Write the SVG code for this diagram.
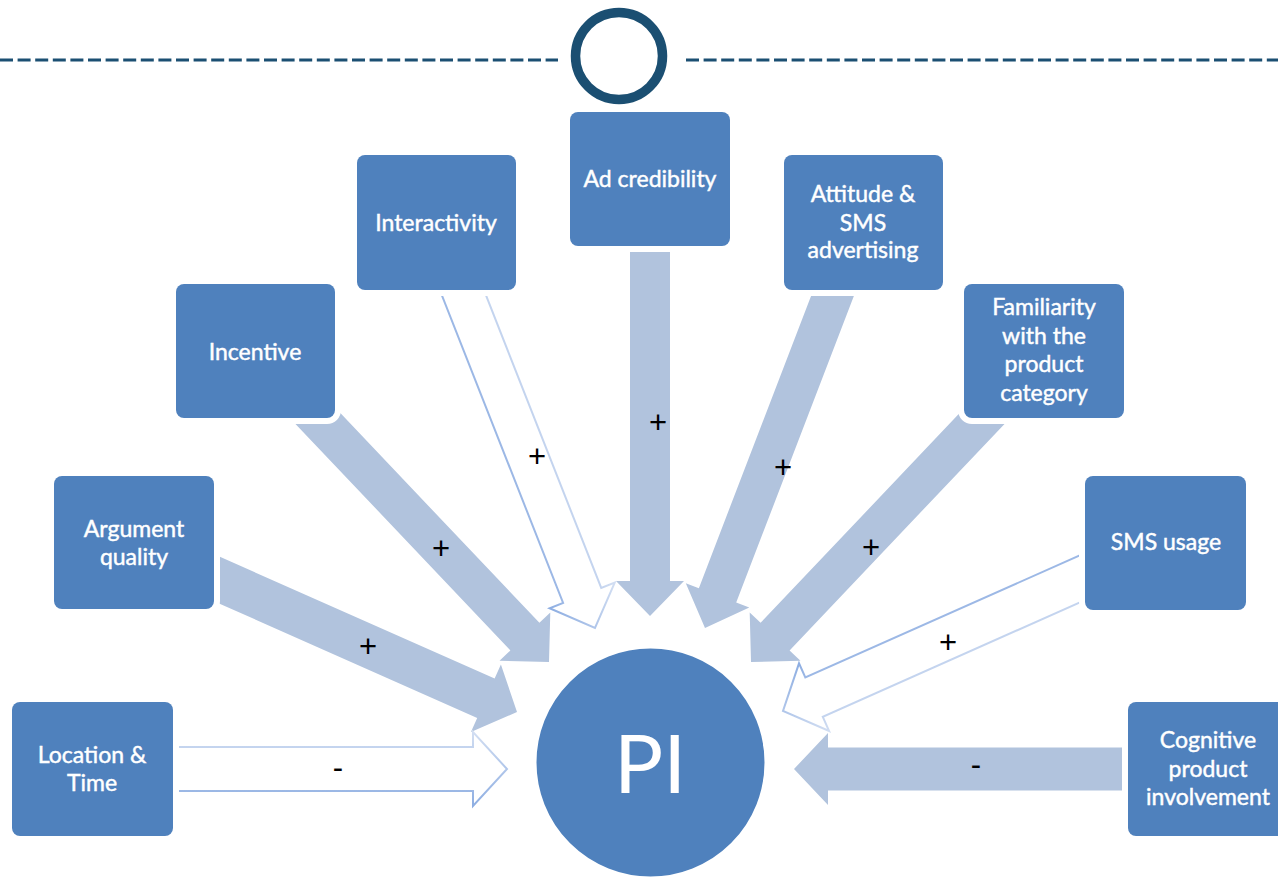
<svg xmlns="http://www.w3.org/2000/svg" width="1278" height="891" viewBox="0 0 1278 891">
<defs>
<linearGradient id="og" x1="0" y1="0" x2="0" y2="1">
<stop offset="0" stop-color="#D2DEF2"/>
<stop offset="1" stop-color="#8EAEE2"/>
</linearGradient>
</defs>
<style>
.box{fill:#4F81BD;stroke:#fff;stroke-width:12;paint-order:stroke}
.t{font-family:Lato,"Open Sans",sans-serif;font-size:23px;fill:#fff;stroke:#fff;stroke-width:0.45;text-anchor:middle}
.af{fill:#B1C3DD}
.ao{fill:#fff;stroke:url(#og);stroke-width:2;stroke-linejoin:miter}
.s{font-family:"Liberation Sans",Arial,sans-serif;font-size:31px;fill:#000;text-anchor:middle}
.hd{fill:none;stroke:#1B4F72;stroke-width:3;stroke-dasharray:13 4.6}
</style>
<rect width="1278" height="891" fill="#fff"/>
<g id="header">
<line class="hd" x1="0" y1="60" x2="558" y2="60"/>
<line class="hd" x1="686" y1="60" x2="1278" y2="60"/>
<circle cx="619" cy="56" r="43.5" fill="none" stroke="#1B4F72" stroke-width="9.5"/>
</g>
<g id="connectors">
<path class="af" transform="translate(517,712) rotate(23.9)" d="M-345,-21.5 H-34 V-37 L0,0 L-34,37 V21.5 H-345 Z"/>
<path class="af" transform="translate(549,662) rotate(46.5)" d="M-360,-20 H-35 V-35 L0,0 L-35,35 V20 H-360 Z"/>
<path class="af" transform="translate(650,616) rotate(90)" d="M-376,-20 H-35 V-34 L0,0 L-35,34 V20 H-376 Z"/>
<path class="af" transform="translate(705,628) rotate(111)" d="M-370,-20 H-35 V-34 L0,0 L-35,34 V20 H-370 Z"/>
<path class="af" transform="translate(751,662) rotate(133.5)" d="M-360,-20 H-35 V-35 L0,0 L-35,35 V20 H-360 Z"/>
<path class="af" transform="translate(794,769) rotate(180)" d="M-346,-21.5 H-34 V-36 L0,0 L-34,36 V21.5 H-346 Z"/>
<path class="ao" transform="translate(507,769)" d="M-350,-22 H-34 V-37 L0,0 L-34,37 V22 H-350 Z"/>
<path class="ao" transform="translate(595,628) rotate(68.5)" d="M-370,-20.5 H-35 V-35 L0,0 L-35,35 V20.5 H-370 Z"/>
<path class="ao" transform="translate(783,711) rotate(156)" d="M-345,-21.5 H-34 V-37 L0,0 L-34,37 V21.5 H-345 Z"/>
<text class="s" x="338" y="778">-</text>
<text class="s" x="368" y="657">+</text>
<text class="s" x="441" y="559">+</text>
<text class="s" x="537" y="467">+</text>
<text class="s" x="658" y="433">+</text>
<text class="s" x="783" y="478">+</text>
<text class="s" x="871" y="558">+</text>
<text class="s" x="948" y="653">+</text>
<text class="s" x="976" y="775">-</text>
</g>
<g id="n-location">
<rect class="box" x="12" y="702" width="161" height="134" rx="8"/>
<text class="t" x="92" y="763">Location &amp;</text>
<text class="t" x="92" y="791">Time</text>
</g>
<g id="n-argument">
<rect class="box" x="54" y="476" width="160" height="133" rx="8"/>
<text class="t" x="134" y="537">Argument</text>
<text class="t" x="134" y="565">quality</text>
</g>
<g id="n-incentive">
<rect class="box" x="176" y="284" width="159" height="134" rx="8"/>
<text class="t" x="255" y="360">Incentive</text>
</g>
<g id="n-interactivity">
<rect class="box" x="357" y="155" width="159" height="135" rx="8"/>
<text class="t" x="436" y="231">Interactivity</text>
</g>
<g id="n-adcred">
<rect class="box" x="570" y="112" width="160" height="134" rx="8"/>
<text class="t" x="650" y="187">Ad credibility</text>
</g>
<g id="n-attitude">
<rect class="box" x="784" y="155" width="159" height="135" rx="8"/>
<text class="t" x="863" y="202">Attitude &amp;</text>
<text class="t" x="863" y="230.5">SMS</text>
<text class="t" x="863" y="258">advertising</text>
</g>
<g id="n-familiarity">
<rect class="box" x="964" y="284" width="160" height="134" rx="8"/>
<text class="t" x="1044" y="315">Familiarity</text>
<text class="t" x="1044" y="343.5">with the</text>
<text class="t" x="1044" y="372">product</text>
<text class="t" x="1044" y="400.5">category</text>
</g>
<g id="n-smsusage">
<rect class="box" x="1085" y="476" width="161" height="134" rx="8"/>
<text class="t" x="1166" y="550">SMS usage</text>
</g>
<g id="n-cognitive">
<rect class="box" x="1128" y="702" width="162" height="134" rx="8"/>
<text class="t" x="1208" y="748">Cognitive</text>
<text class="t" x="1208" y="776.5">product</text>
<text class="t" x="1208" y="805">involvement</text>
</g>
<g id="n-pi">
<circle cx="650.5" cy="762.5" r="115.5" fill="#4F81BD" stroke="#fff" stroke-width="3"/>
<text x="650" y="793" font-family="Lato,'Open Sans',sans-serif" font-size="82" fill="#fff" text-anchor="middle">PI</text>
</g>
</svg>
